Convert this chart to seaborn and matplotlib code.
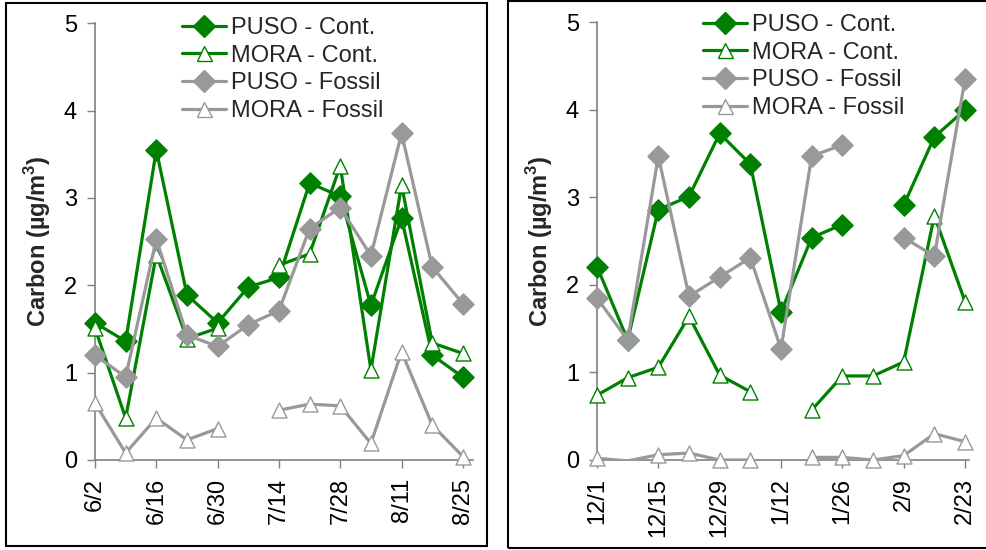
import numpy as np
import pandas as pd
import seaborn as sns
import matplotlib
matplotlib.use("Agg")
import matplotlib.pyplot as plt
from matplotlib.lines import Line2D
from matplotlib.patches import Rectangle

nan = np.nan

# ---------------- data ----------------
summer_dates = ["6/2", "6/9", "6/16", "6/23", "6/30", "7/7", "7/14",
                "7/21", "7/28", "8/4", "8/11", "8/18", "8/25"]
summer_puso_cont = [1.57, 1.36, 3.55, 1.89, 1.57, 1.98, 2.09, 3.17, 3.02, 1.77, 2.77, 1.20, 0.95]
summer_mora_cont = [1.51, 0.48, 2.35, 1.39, 1.51, nan, 2.23, 2.36, 3.37, 1.03, 3.15, 1.34, 1.22]
summer_puso_fossil = [1.20, 0.95, 2.53, 1.43, 1.30, 1.55, 1.71, 2.65, 2.89, 2.34, 3.74, 2.21, 1.79]
summer_mora_fossil = [0.65, 0.08, 0.48, 0.23, 0.36, nan, 0.57, 0.64, 0.62, 0.19, 1.24, 0.40, 0.04]

winter_dates = ["12/1", "12/8", "12/15", "12/22", "12/29", "1/5", "1/12",
                "1/19", "1/26", "2/2", "2/9", "2/16", "2/23"]
winter_puso_cont = [2.21, 1.37, 2.86, 3.01, 3.73, 3.38, 1.69, 2.54, 2.69, nan, 2.91, 3.69, 4.00]
winter_mora_cont = [0.74, 0.94, 1.06, 1.64, 0.97, 0.78, nan, 0.57, 0.96, 0.96, 1.12, 2.79, 1.81]
winter_puso_fossil = [1.85, 1.37, 3.47, 1.87, 2.09, 2.31, 1.27, 3.47, 3.60, nan, 2.54, 2.33, 4.35]
winter_mora_fossil = [0.02, -0.01, 0.06, 0.08, 0.00, 0.00, nan, 0.03, 0.03, 0.00, 0.05, 0.30, 0.21]

series_names = ["PUSO - Cont.", "MORA - Cont.", "PUSO - Fossil", "MORA - Fossil"]
y_ticks = [0, 1, 2, 3, 4, 5]
y_label = "Carbon (\u00b5g/m$^\\mathregular{3}$)"

# ---------------- styles ----------------
GREEN = "#008000"
GRAY = "#999999"
styles = [
    dict(color=GREEN, marker="D", mfc=GREEN, mec=GREEN),
    dict(color=GREEN, marker="^", mfc="white", mec=GREEN),
    dict(color=GRAY, marker="D", mfc=GRAY, mec=GRAY),
    dict(color=GRAY, marker="^", mfc="white", mec=GRAY),
]
LW = 2.3
MS = 10.8

sns.set_theme(style="white")
plt.rcParams["font.family"] = ["Liberation Sans", "DejaVu Sans"]
FS = 17

W, H = 987, 550
fig = plt.figure(figsize=(W / 100, H / 100), dpi=100)


def px(x0, y0, x1, y1):
    return [x0 / W, 1 - y1 / H, (x1 - x0) / W, (y1 - y0) / H]


def draw_panel(ax, dates, series, xmax):
    n = len(dates)
    xs = np.arange(n)
    for k, (vals, st) in enumerate(zip(series, styles)):
        v = np.asarray(vals, dtype=float)
        seg = np.cumsum(np.isnan(v))
        df = pd.DataFrame({"x": xs, "y": v, "seg": seg}).dropna()
        z = 3 + 2 * k
        sns.lineplot(data=df, x="x", y="y", units="seg", estimator=None,
                     color=st["color"], lw=LW, ax=ax, zorder=z, legend=False)
        pts = df[df["y"] >= 0]
        sns.scatterplot(data=pts, x="x", y="y", marker=st["marker"], s=MS ** 2,
                        facecolor=st["mfc"], edgecolor=st["mec"], linewidth=1.0,
                        ax=ax, zorder=z + 1, legend=False)
    ax.set_xlim(0, xmax)
    ax.set_ylim(0, 5)
    ax.set_yticks(y_ticks)
    ax.set_yticklabels([str(t) for t in y_ticks], fontsize=FS)
    ax.set_xticks(xs[::2])
    ax.set_xticklabels(dates[::2], rotation=90, fontsize=FS)
    ax.set_xlabel("")
    ax.set_ylabel(y_label, fontsize=FS, fontweight="bold", labelpad=8)
    for s in ["top", "right"]:
        ax.spines[s].set_visible(False)
    for s in ["left", "bottom"]:
        ax.spines[s].set_color("#808080")
        ax.spines[s].set_linewidth(1.2)
    ax.tick_params(axis="both", which="major", direction="out", length=6,
                   width=1.0, color="#808080", left=True, bottom=True,
                   labelcolor="black", pad=7)
    ax.set_facecolor("none")
    for coll in ax.collections:
        coll.set_clip_on(False)


def add_legend(x_px, y_px):
    handles = [Line2D([0], [0], color=st["color"], lw=LW, marker=st["marker"],
                      markersize=MS, markerfacecolor=st["mfc"],
                      markeredgecolor=st["mec"], markeredgewidth=1.0)
               for st in styles]
    fig.legend(handles, series_names, loc="upper left",
               bbox_to_anchor=(x_px / W, 1 - y_px / H), frameon=False,
               fontsize=FS, handlelength=1.85, handletextpad=0.22,
               labelspacing=0.24, borderpad=0, borderaxespad=0)


ax1 = fig.add_axes(px(95, 23.3, 473, 460))
draw_panel(ax1, summer_dates,
           [summer_puso_cont, summer_mora_cont, summer_puso_fossil, summer_mora_fossil],
           12.33)
ax2 = fig.add_axes(px(597, 22.3, 969, 460))
draw_panel(ax2, winter_dates,
           [winter_puso_cont, winter_mora_cont, winter_puso_fossil, winter_mora_fossil],
           12.13)

add_legend(182, 17)
add_legend(703, 14)

# panel frames
fig.patches.append(Rectangle((6 / W, 1 - 546 / H), (487 - 6) / W, (546 - 3) / H,
                             transform=fig.transFigure, fill=False,
                             edgecolor="black", lw=1.5))
fig.patches.append(Rectangle((508 / W, 1 - 547.5 / H), (1000 - 508) / W, (547.5 - 0.8) / H,
                             transform=fig.transFigure, fill=False,
                             edgecolor="black", lw=1.5, clip_on=False))

fig.savefig("out.png", dpi=100)
